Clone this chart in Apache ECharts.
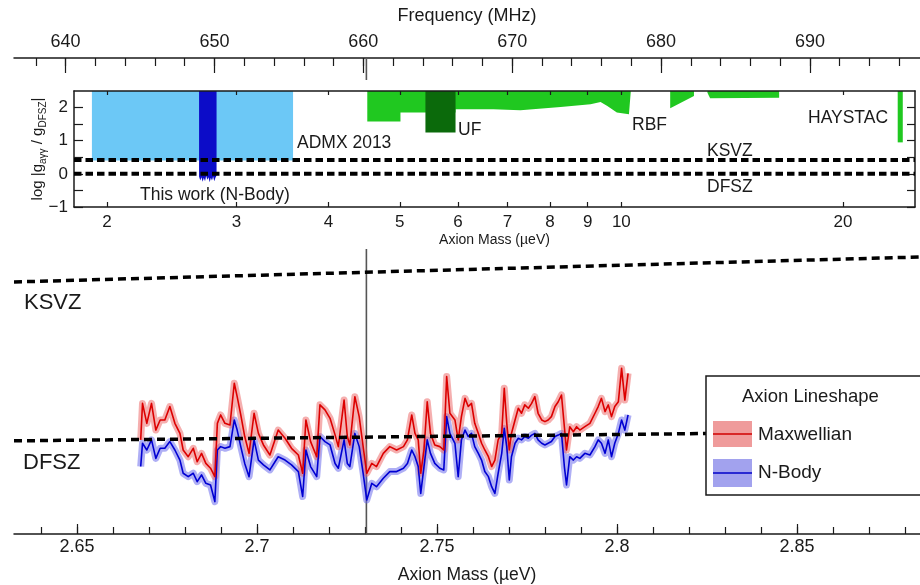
<!DOCTYPE html>
<html>
<head>
<meta charset="utf-8">
<script src="https://cdn.jsdelivr.net/npm/echarts@6.0.0/dist/echarts.min.js"></script>
<style>
html, body { margin:0; padding:0; background:#fff; }
#chart { width:920px; height:585px; }
</style>
</head>
<body>
<div id="chart"></div>
<script>
// ===== main panel data (axion mass in µeV, coupling in 1e-15 GeV^-1) =====
const massMain = [
  2.6677, 2.6682, 2.6694, 2.6707, 2.6719, 2.6731, 2.6744, 2.6758, 2.6772, 2.6786,
  2.6795, 2.6809, 2.6823, 2.6834, 2.6846, 2.6858, 2.6871, 2.6883, 2.6890, 2.6899,
  2.6911, 2.6925, 2.6937, 2.6945, 2.6955, 2.6966, 2.6978, 2.6992, 2.7004, 2.7018,
  2.7036, 2.7059, 2.7078, 2.7096, 2.7115, 2.7127, 2.7136, 2.7149, 2.7166, 2.7175,
  2.7189, 2.7203, 2.7217, 2.7226, 2.7242, 2.7251, 2.7258, 2.7272, 2.7284, 2.7295,
  2.7305,
  2.7319, 2.7332, 2.7351, 2.7369, 2.7388, 2.7407, 2.7418, 2.7430, 2.7439, 2.7448,
  2.7455, 2.7464, 2.7473, 2.7482, 2.7494, 2.7508, 2.7519, 2.7527, 2.7536, 2.7550,
  2.7559, 2.7568, 2.7578, 2.7587, 2.7596, 2.7605, 2.7615, 2.7624, 2.7633, 2.7643,
  2.7652, 2.7661, 2.7670, 2.7680, 2.7687, 2.7694, 2.7701, 2.7707, 2.7717, 2.7726,
  2.7735, 2.7744, 2.7754, 2.7763, 2.7772, 2.7781, 2.7791, 2.7800, 2.7809, 2.7818,
  2.7828, 2.7837, 2.7846, 2.7854, 2.7860, 2.7869, 2.7879, 2.7888, 2.7897, 2.7911,
  2.7925, 2.7939, 2.7948, 2.7957, 2.7967, 2.7976, 2.7985, 2.7994, 2.8004, 2.8013,
  2.8022, 2.8031
];
const maxwellian = [
  0.392, 0.544, 0.461, 0.544, 0.433, 0.475, 0.475, 0.531, 0.461, 0.419,
  0.350, 0.322, 0.357, 0.301, 0.336, 0.294, 0.274, 0.239, 0.461, 0.496,
  0.461, 0.454, 0.628, 0.572, 0.496, 0.406, 0.336, 0.503, 0.419, 0.371,
  0.329, 0.433, 0.399, 0.357, 0.329, 0.253, 0.475, 0.385, 0.322, 0.538,
  0.517, 0.482, 0.413, 0.364, 0.558, 0.406, 0.371, 0.572, 0.489, 0.364,
  0.253,
  0.294, 0.281, 0.336, 0.364, 0.350, 0.364, 0.392, 0.496, 0.419, 0.392,
  0.253, 0.350, 0.551, 0.419, 0.371, 0.364, 0.350, 0.656, 0.503, 0.475,
  0.392, 0.489, 0.565, 0.531, 0.544, 0.461, 0.419, 0.378, 0.350, 0.322,
  0.281, 0.308, 0.392, 0.419, 0.607, 0.461, 0.350, 0.419, 0.475, 0.524,
  0.503, 0.538, 0.524, 0.544, 0.572, 0.503, 0.475, 0.468, 0.475, 0.489,
  0.531, 0.551, 0.579, 0.447, 0.350, 0.447, 0.426, 0.447, 0.433, 0.447,
  0.461, 0.503, 0.531, 0.565, 0.510, 0.538, 0.489, 0.531, 0.551, 0.690,
  0.558, 0.669
];
const nbody = [
  0.281, 0.378, 0.350, 0.392, 0.315, 0.357, 0.357, 0.385, 0.350, 0.308,
  0.253, 0.239, 0.253, 0.218, 0.246, 0.211, 0.204, 0.135, 0.350, 0.364,
  0.357, 0.364, 0.475, 0.433, 0.364, 0.294, 0.239, 0.392, 0.308, 0.288,
  0.267, 0.322, 0.308, 0.288, 0.260, 0.156, 0.350, 0.281, 0.239, 0.406,
  0.385, 0.371, 0.294, 0.274, 0.392, 0.294, 0.281, 0.419, 0.364, 0.253,
  0.142,
  0.211, 0.197, 0.232, 0.260, 0.260, 0.274, 0.294, 0.350, 0.322, 0.281,
  0.169, 0.281, 0.392, 0.336, 0.294, 0.274, 0.267, 0.489, 0.419, 0.378,
  0.239, 0.392, 0.433, 0.406, 0.419, 0.364, 0.336, 0.308, 0.260, 0.239,
  0.197, 0.169, 0.253, 0.336, 0.440, 0.364, 0.225, 0.322, 0.378, 0.399,
  0.392, 0.406, 0.399, 0.412, 0.419, 0.392, 0.378, 0.371, 0.378, 0.385,
  0.406, 0.412, 0.419, 0.281, 0.204, 0.322, 0.308, 0.322, 0.315, 0.336,
  0.329, 0.364, 0.392, 0.378, 0.336, 0.392, 0.322, 0.378, 0.419, 0.475,
  0.433, 0.496
];
const seriesNames = ['Maxwellian', 'N-Body'];
const ksvzMass = [2.6325, 2.8842];
const ksvzCoupling = [1.050, 1.154];
const dfszMass = [2.6325, 2.8842];
const dfszCoupling = [0.388, 0.428];
const markerMass = [2.7304, 2.7304];
const markerCoupling = [0, 1.983];

// tick labels
const massTicks = [2.65, 2.7, 2.75, 2.8, 2.85];
const freqTicks = [640, 650, 660, 670, 680, 690];
const insetMassTicks = [2, 3, 4, 5, 6, 7, 8, 9, 10, 20];
const insetYTicks = [-1, 0, 1, 2];

// ===== inset data (log |g / g_DFSZ| lower edges of excluded regions) =====
const admxMass = [1.908, 3.58];
const admxLimit = [0.40, 0.40];
const thisWorkMass = [2.668, 2.678, 2.688, 2.698, 2.708, 2.718, 2.728, 2.738, 2.748, 2.758, 2.768, 2.778, 2.788, 2.798, 2.808, 2.818];
const thisWorkLimit = [-0.08, -0.20, -0.10, -0.24, -0.12, -0.22, -0.06, -0.18, -0.10, -0.25, -0.12, -0.20, -0.08, -0.22, -0.12, -0.05];
const greenMassA = [4.516, 5.01, 5.01, 5.952, 5.952, 6.7, 7.29, 8.27, 9.08, 9.37, 9.57, 9.86, 10.24, 10.30];
const greenLimitA = [1.58, 1.58, 1.85, 1.85, 1.95, 1.95, 1.92, 2.02, 2.10, 2.17, 2.05, 1.85, 1.80, 1.80];
const greenMassB = [11.65, 12.55];
const greenLimitB = [1.98, 2.35];
const greenMassC = [13.09, 13.2, 16.38];
const greenLimitC = [2.45, 2.28, 2.30];
const ufMass = [5.417, 5.952];
const ufLimit = [1.25, 1.25];
const haystacMass = [23.74, 24.12];
const haystacLimit = [0.95, 0.95];
const insetKsvzMass = [1.804, 25.06];
const insetKsvzLevel = [0.42, 0.42];
const insetDfszMass = [1.804, 25.06];
const insetDfszLevel = [0, 0];

// ===== build chart =====
const FONT = 'Liberation Sans';
const INK = '#1a1a1a';
const H_MASS_PER_MHZ = 0.004135667; // µeV per MHz
const massMin = 2.6325, massMax = 2.8842;
const freqMin = massMin / H_MASS_PER_MHZ, freqMax = massMax / H_MASS_PER_MHZ;
const minorMass = []; for (let k = 264; k <= 288; k++) minorMass.push(k / 100);
const minorFreq = []; for (let f = 638; f <= 696; f += 2) minorFreq.push(f);
const insetYMinor = [-1, -0.5, 0, 0.5, 1, 1.5, 2];

const pairs = (xs, ys) => xs.map((x, i) => [x, ys[i]]);

function mainLine(data, color, width, dash, z) {
  return { type: 'line', xAxisIndex: 0, yAxisIndex: 0, data, symbol: 'none', silent: true, z: z || 2,
    lineStyle: { color, width, type: dash || 'solid', join: 'round', cap: 'butt' } };
}
function insetArea(xs, ys, color) {
  return { type: 'line', xAxisIndex: 4, yAxisIndex: 2, data: pairs(xs, ys), symbol: 'none', silent: true, z: 6,
    lineStyle: { width: 0, opacity: 0 }, areaStyle: { color, opacity: 1, origin: 'end' } };
}
function insetDash(xs, ys) {
  return { type: 'line', xAxisIndex: 4, yAxisIndex: 2, data: pairs(xs, ys), symbol: 'none', silent: true, z: 6,
    lineStyle: { color: '#000', width: 4, type: [7.5, 4], cap: 'butt' } };
}
function txt(text, x, y, size, z) {
  return { type: 'text', x, y, z: z || 7, silent: true,
    style: { text, font: size + 'px "' + FONT + '"', fill: INK, align: 'left', verticalAlign: 'middle' } };
}

const axisLineStyle = { color: INK, width: 1.5 };
const tickStyle = { color: INK, width: 1.2 };

const option = {
  animation: false,
  backgroundColor: '#fff',
  textStyle: { fontFamily: FONT },
  grid: [
    { left: 14, right: 0, top: 58, bottom: 51, containLabel: false, outerBoundsMode: 'none' },
    { left: 74, right: 5, top: 91, bottom: 378, containLabel: false, outerBoundsMode: 'none' },
    { left: 14, right: 0, top: 58, bottom: 51, containLabel: false, outerBoundsMode: 'none' }
  ],
  xAxis: [
    { gridIndex: 0, type: 'value', position: 'bottom', min: massMin, max: massMax,
      axisLine: { onZero: false, lineStyle: axisLineStyle },
      axisTick: { inside: true, length: 7, customValues: minorMass, lineStyle: tickStyle },
      axisLabel: { customValues: massTicks, fontSize: 18, color: INK, margin: 4, fontFamily: FONT, formatter: v => String(v) },
      splitLine: { show: false },
      name: 'Axion Mass (µeV)', nameLocation: 'middle', nameGap: 32, nameMoveOverlap: false,
      nameTextStyle: { fontSize: 17.5, color: INK, fontFamily: FONT } },
    { gridIndex: 0, type: 'value', position: 'top', min: freqMin, max: freqMax,
      axisLine: { onZero: false, lineStyle: axisLineStyle },
      axisTick: { inside: true, length: 8, customValues: minorFreq, lineStyle: tickStyle },
      axisLabel: { customValues: freqTicks, fontSize: 18, color: INK, margin: 7, fontFamily: FONT },
      splitLine: { show: false },
      name: 'Frequency (MHz)', nameLocation: 'middle', nameGap: 33, nameMoveOverlap: false,
      nameTextStyle: { fontSize: 18, color: INK, fontFamily: FONT } },
    { gridIndex: 2, type: 'value', position: 'bottom', min: massMin, max: massMax,
      axisLine: { show: false, onZero: false },
      axisTick: { inside: true, length: 10, customValues: massTicks, lineStyle: tickStyle },
      axisLabel: { show: false }, splitLine: { show: false } },
    { gridIndex: 2, type: 'value', position: 'top', min: freqMin, max: freqMax,
      axisLine: { show: false, onZero: false },
      axisTick: { inside: true, length: 15, customValues: freqTicks, lineStyle: tickStyle },
      axisLabel: { show: false }, splitLine: { show: false } },
    { gridIndex: 1, type: 'log', logBase: 10, position: 'bottom', min: 1.804, max: 25.06, z: 6,
      axisLine: { onZero: false, lineStyle: axisLineStyle },
      axisTick: { inside: true, length: 5, customValues: insetMassTicks, lineStyle: tickStyle },
      axisLabel: { customValues: insetMassTicks, fontSize: 17, color: INK, margin: 7, fontFamily: FONT, formatter: v => String(Math.round(v)) },
      minorTick: { show: false }, splitLine: { show: false },
      name: 'Axion Mass (µeV)', nameLocation: 'middle', nameGap: 26, nameMoveOverlap: false,
      nameTextStyle: { fontSize: 14, color: INK, fontFamily: FONT } },
    { gridIndex: 1, type: 'log', logBase: 10, position: 'top', min: 1.804, max: 25.06, z: 6,
      axisLine: { onZero: false, lineStyle: axisLineStyle },
      axisTick: { inside: true, length: 4, customValues: insetMassTicks, lineStyle: tickStyle },
      axisLabel: { show: false }, minorTick: { show: false }, splitLine: { show: false } }
  ],
  yAxis: [
    { gridIndex: 0, type: 'value', min: 0, max: 1.983, show: false },
    { gridIndex: 2, type: 'value', min: 0, max: 1, show: false },
    { gridIndex: 1, type: 'value', position: 'left', min: -1, max: 2.5, z: 6,
      axisLine: { onZero: false, lineStyle: axisLineStyle },
      axisTick: { inside: true, length: 9, customValues: insetYMinor, lineStyle: tickStyle },
      axisLabel: { customValues: insetYTicks, fontSize: 17, color: INK, margin: 6, fontFamily: FONT,
        formatter: v => (v < 0 ? '\u2212' + Math.abs(v) : String(v)) },
      splitLine: { show: false },
      name: '{a|log |g}{b|aγγ}{a| / g}{b|DFSZ}{a||}', nameLocation: 'middle', nameRotate: 90, nameGap: 26,
      nameMoveOverlap: false,
      nameTextStyle: { fontSize: 15, color: INK, fontFamily: FONT,
        rich: { a: { fontSize: 15, color: INK, fontFamily: FONT, lineHeight: 20 },
                b: { fontSize: 10, color: INK, fontFamily: FONT, lineHeight: 20, verticalAlign: 'bottom' } } } },
    { gridIndex: 1, type: 'value', position: 'right', min: -1, max: 2.5, z: 6,
      axisLine: { onZero: false, lineStyle: axisLineStyle },
      axisTick: { inside: true, length: 8, customValues: insetYMinor, lineStyle: tickStyle },
      axisLabel: { show: false }, splitLine: { show: false } }
  ],
  series: [
    // main panel
    mainLine(pairs(markerMass, markerCoupling), '#555', 1.6, 'solid', 1),
    mainLine(pairs(massMain, nbody), 'rgba(95,95,235,0.5)', 7, 'solid', 2),
    mainLine(pairs(massMain, maxwellian), 'rgba(235,95,95,0.5)', 7, 'solid', 2),
    mainLine(pairs(massMain, nbody), '#0000d2', 1.6, 'solid', 2),
    mainLine(pairs(massMain, maxwellian), '#dc0000', 1.6, 'solid', 2),
    mainLine(pairs(ksvzMass, ksvzCoupling), '#000', 3.5, [8, 5], 2),
    mainLine(pairs(dfszMass, dfszCoupling), '#000', 3.5, [8, 5], 2),
    // inset panel
    insetArea(admxMass, admxLimit, '#6cc8f6'),
    insetArea(greenMassA, greenLimitA, '#20c820'),
    insetArea(greenMassB, greenLimitB, '#20c820'),
    insetArea(greenMassC, greenLimitC, '#20c820'),
    insetArea(haystacMass, haystacLimit, '#20c820'),
    insetArea(ufMass, ufLimit, '#0b6a0b'),
    insetDash(insetKsvzMass, insetKsvzLevel),
    insetDash(insetDfszMass, insetDfszLevel),
    insetArea(thisWorkMass, thisWorkLimit, '#0c0cc8')
  ],
  graphic: [
    { type: 'rect', silent: true, z: 3, shape: { x: 0, y: 80, width: 920, height: 169 }, style: { fill: '#fff' } },
    txt('ADMX 2013', 297, 143, 17.5),
    txt('This work (N-Body)', 140, 195, 17.5),
    txt('UF', 458, 130, 17.5),
    txt('RBF', 632, 125, 17.5),
    txt('KSVZ', 707, 151, 17.5),
    txt('DFSZ', 707, 187, 17.5),
    txt('HAYSTAC', 808, 118, 17.5),
    txt('KSVZ', 24, 303, 22),
    txt('DFSZ', 23, 463, 22),
    // legend
    { type: 'rect', silent: true, z: 8, shape: { x: 706, y: 376, width: 222, height: 119 },
      style: { fill: '#fff', stroke: INK, lineWidth: 1.5 } },
    txt('Axion Lineshape', 742, 397, 18.5, 9),
    { type: 'rect', silent: true, z: 9, shape: { x: 713, y: 421, width: 39, height: 26 }, style: { fill: '#ef9b9b' } },
    { type: 'line', silent: true, z: 9, shape: { x1: 713, y1: 434, x2: 752, y2: 434 }, style: { stroke: '#d00000', lineWidth: 1.4 } },
    txt(seriesNames[0], 758, 435, 19, 9),
    { type: 'rect', silent: true, z: 9, shape: { x: 713, y: 459, width: 39, height: 28 }, style: { fill: '#a2a2ee' } },
    { type: 'line', silent: true, z: 9, shape: { x1: 713, y1: 473, x2: 752, y2: 473 }, style: { stroke: '#0000c8', lineWidth: 1.4 } },
    txt(seriesNames[1], 758, 473, 19, 9)
  ]
};

const chart = echarts.init(document.getElementById('chart'), null, { renderer: 'canvas' });
chart.setOption(option);
</script>
</body>
</html>
